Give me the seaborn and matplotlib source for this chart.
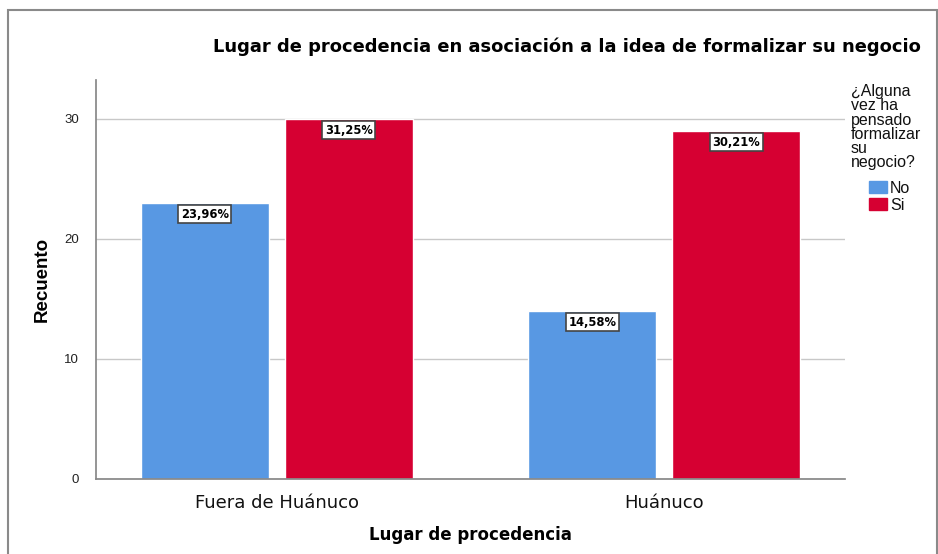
import pandas as pd
import matplotlib.pyplot as plt
import matplotlib.patches as mpatches
import seaborn as sns

sns.set_theme(style="white")
plt.rcParams["font.family"] = ["Liberation Sans", "DejaVu Sans"]

# -------------------------------------------------------
# data
# -------------------------------------------------------
lugares   = ["Fuera de Huánuco", "Fuera de Huánuco", "Huánuco", "Huánuco"]
respuesta = ["No", "Si", "No", "Si"]
recuento  = [23, 30, 14, 29]
etiquetas = ["23,96%", "31,25%", "14,58%", "30,21%"]

df = pd.DataFrame({"lugar": lugares, "resp": respuesta, "n": recuento})

colores = {"No": "#5898E3", "Si": "#D60032"}

fig = plt.figure(figsize=(9.38, 5.54), dpi=100)
ax = fig.add_axes([0.1023, 0.1354, 0.7985, 0.7202])

sns.barplot(data=df, x="lugar", y="n", hue="resp", palette=colores,
            width=0.743, gap=0.11, saturation=1, ax=ax, legend=False)

ax.set_ylim(0, 33.25)
ax.set_xlim(-0.467, 1.466)
ax.set_yticks([0, 10, 20, 30])
ax.yaxis.grid(True, color="#c8c8c8", linewidth=1)
ax.set_axisbelow(True)

for s in ["top", "right"]:
    ax.spines[s].set_visible(False)
for s in ["left", "bottom"]:
    ax.spines[s].set_color("#888888")
ax.tick_params(axis="y", left=False, labelsize=9.5, pad=6, labelcolor="#222222")
ax.tick_params(axis="x", bottom=False, pad=5)
for lab in ax.get_xticklabels():
    lab.set_fontfamily("DejaVu Sans")
    lab.set_fontsize(13)
    lab.set_color("#111111")

ax.set_xlabel("Lugar de procedencia", fontsize=12, fontweight="bold", labelpad=10,
              fontfamily="DejaVu Sans", color="black")
ax.set_ylabel("Recuento", fontsize=13.5, fontweight="bold", labelpad=10, color="black")

# percent labels in small boxes just under the top of each bar
bar_list = sorted([r for c in ax.containers for r in c], key=lambda r: r.get_x())
for rect, txt in zip(bar_list, etiquetas):
    ax.annotate(txt, (rect.get_x() + rect.get_width() / 2, rect.get_height()),
                xytext=(0, -8), textcoords="offset points",
                ha="center", va="center", fontsize=8.3, fontweight="bold",
                fontfamily="DejaVu Sans", color="black",
                bbox=dict(boxstyle="square,pad=0.22", fc="white", ec="#444444", lw=1.2))

fig.text(0.604, 0.915, "Lugar de procedencia en asociación a la idea de formalizar su negocio",
         ha="center", va="center", fontsize=12.9, fontweight="bold",
         fontfamily="DejaVu Sans", color="black")

# legend
fig.text(0.907, 0.848, "¿Alguna\nvez ha\npensado\nformalizar\nsu\nnegocio?",
         ha="left", va="top", fontsize=11.5, linespacing=0.93, color="#111111")
handles = [mpatches.Patch(color=colores[k], label=k) for k in ["No", "Si"]]
fig.legend(handles=handles, loc="upper left", bbox_to_anchor=(0.926, 0.674),
           frameon=False, fontsize=11.5, handlelength=1.15, handleheight=0.85,
           handletextpad=0.2, labelspacing=0.12, borderpad=0, borderaxespad=0,
           labelcolor="#111111")

# grey frame around the chart
fig.patches.append(mpatches.Rectangle((0.009, -0.1), 0.99, 1.082, transform=fig.transFigure,
                                      fill=False, ec="#8a8a8a", lw=1.5))

plt.savefig("out.png", dpi=100)
